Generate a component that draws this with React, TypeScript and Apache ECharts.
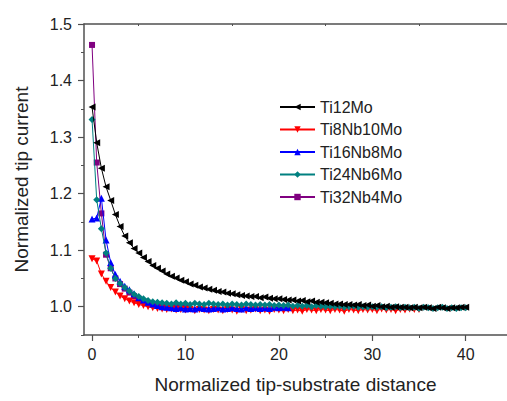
import React, { useEffect, useRef } from "react";
import * as echarts from "echarts";

const distance = [
  0, 0.5, 1, 1.5, 2, 2.5, 3, 3.5, 4, 4.5, 5, 5.5, 6, 6.5, 7, 7.5, 8, 8.5, 9, 9.5,
  10, 10.5, 11, 11.5, 12, 12.5, 13, 13.5, 14, 14.5, 15, 15.5, 16, 16.5, 17, 17.5, 18, 18.5, 19, 19.5,
  20, 20.5, 21, 21.5, 22, 22.5, 23, 23.5, 24, 24.5, 25, 25.5, 26, 26.5, 27, 27.5, 28, 28.5, 29, 29.5,
  30, 30.5, 31, 31.5, 32, 32.5, 33, 33.5, 34, 34.5, 35, 35.5, 36, 36.5, 37, 37.5, 38, 38.5, 39, 39.5, 40,
];

const ti12Mo = [
  1.353, 1.29, 1.245, 1.212, 1.188, 1.163, 1.142, 1.125, 1.113, 1.103, 1.095, 1.087, 1.08, 1.073, 1.068, 1.063, 1.058, 1.054, 1.051, 1.047,
  1.044, 1.04, 1.038, 1.035, 1.033, 1.031, 1.029, 1.027, 1.026, 1.024, 1.023, 1.021, 1.02, 1.019, 1.018, 1.018, 1.016, 1.017, 1.015, 1.014,
  1.014, 1.013, 1.012, 1.012, 1.01, 1.011, 1.009, 1.01, 1.008, 1.008, 1.007, 1.006, 1.005, 1.005, 1.004, 1.004, 1.003, 1.004, 1.002, 1.003,
  1.001, 1.002, 1.0, 1.001, 0.999, 1.0, 0.999, 0.999, 0.998, 0.999, 0.998, 0.999, 0.998, 0.997, 0.999, 0.998, 0.997, 0.998, 0.998, 0.999, 0.999,
];

const ti8Nb10Mo = [
  1.085, 1.081, 1.058, 1.045, 1.034, 1.026, 1.019, 1.014, 1.01, 1.007, 1.004, 1.002, 1.0, 0.998, 0.997, 0.996, 0.995, 0.996, 0.994, 0.995,
  0.994, 0.995, 0.993, 0.995, 0.994, 0.993, 0.995, 0.994, 0.993, 0.995, 0.994, 0.992, 0.995, 0.993, 0.994, 0.996, 0.993, 0.994, 0.992, 0.995,
  0.994, 0.993, 0.995, 0.993, 0.994, 0.992, 0.995, 0.994, 0.993, 0.995, 0.994, 0.993, 0.995, 0.994, 0.992, 0.995, 0.994, 0.993, 0.995, 0.994,
  0.995, 0.993, 0.996, 0.994, 0.995, 0.993, 0.995, 0.994, 0.996, 0.995, 0.995,
];

const ti16Nb8Mo = [
  1.155, 1.157, 1.192, 1.118, 1.078, 1.057, 1.045, 1.036, 1.03, 1.023, 1.016, 1.012, 1.008, 1.005, 1.002, 1.0, 0.999, 0.998, 0.997, 0.998,
  0.996, 0.997, 0.996, 0.998, 0.997, 0.996, 0.997, 0.998, 0.996, 0.997, 0.998, 0.997, 0.996, 0.998, 0.997, 0.998, 0.997, 0.998, 0.997, 0.999,
  0.998, 0.999, 0.998,
];

const ti24Nb6Mo = [
  1.331, 1.189, 1.138, 1.095, 1.068, 1.05, 1.041, 1.034, 1.028, 1.022, 1.018, 1.014, 1.011, 1.009, 1.008, 1.007, 1.006, 1.005, 1.007, 1.005,
  1.006, 1.004, 1.006, 1.005, 1.004, 1.006, 1.005, 1.004, 1.005, 1.003, 1.005, 1.004, 1.003, 1.005, 1.004, 1.003, 1.004, 1.003, 1.004, 1.002,
  1.003, 1.002, 1.003, 1.001, 1.002, 1.001, 1.002, 1.0, 1.002, 1.001, 1.0, 1.001, 1.0, 1.001, 0.999, 1.0, 1.001, 0.999, 1.0, 0.999,
  1.0, 0.999, 1.0, 0.998, 0.999, 1.0, 0.998, 0.999, 0.998, 0.999, 0.997, 0.999, 0.998, 0.997, 0.998, 0.999, 0.997, 0.998, 0.997, 0.998, 0.998,
];

const ti32Nb4Mo = [
  1.463, 1.255, 1.165, 1.092, 1.068, 1.05, 1.04, 1.032, 1.025, 1.019, 1.014, 1.01, 1.006, 1.004, 1.002, 1.001, 1.0, 0.999, 1.0, 0.999, 0.999,
];

const yTicks = [1.0, 1.1, 1.2, 1.3, 1.4, 1.5];
const yMinorTicks = [0.95, 1.05, 1.15, 1.25, 1.35, 1.45];
const xTicks = [0, 10, 20, 30, 40];
const xMinorTicks = [5, 15, 25, 35];

const FONT = "Liberation Sans, Arial, sans-serif";
const AXIS_COLOR = "#505050";
const TEXT_COLOR = "#222";

function pairs(values: number[]) {
  return values.map((v, i) => [distance[i], v]);
}

export default function App() {
  const ref = useRef<HTMLDivElement>(null);
  useEffect(() => {
    if (!ref.current) return;
    const chart = echarts.init(ref.current, null, { renderer: "svg" });
    const xRange = { min: -0.86, max: 44.42 };
    const series = [
      { name: "Ti12Mo", data: ti12Mo, color: "#000000", symbol: "triangle", rotate: 90, z: 6 },
      { name: "Ti8Nb10Mo", data: ti8Nb10Mo, color: "#ff0000", symbol: "triangle", rotate: 180, z: 3 },
      { name: "Ti16Nb8Mo", data: ti16Nb8Mo, color: "#0000ff", symbol: "triangle", rotate: 0, z: 4 },
      { name: "Ti24Nb6Mo", data: ti24Nb6Mo, color: "#008080", symbol: "diamond", rotate: 0, z: 5 },
      { name: "Ti32Nb4Mo", data: ti32Nb4Mo, color: "#800080", symbol: "rect", rotate: 0, z: 2 },
    ];
    chart.setOption({
      animation: false,
      backgroundColor: "#ffffff",
      grid: { left: 84, right: 0, top: 24, bottom: 66, containLabel: false },
      legend: {
        orient: "vertical",
        left: 274,
        top: 94,
        itemWidth: 35,
        itemHeight: 8,
        itemGap: 6.5,
        data: series.map((s) => s.name),
        textStyle: { fontFamily: FONT, fontSize: 16, color: TEXT_COLOR, lineHeight: 16 },
      },
      xAxis: [
        {
          type: "value",
          ...xRange,
          position: "bottom",
          name: "Normalized tip-substrate distance",
          nameLocation: "middle",
          nameGap: 40,
          nameTextStyle: { fontFamily: FONT, fontSize: 19, color: TEXT_COLOR },
          axisLine: { show: true, onZero: false, lineStyle: { color: AXIS_COLOR, width: 1.5 } },
          axisTick: { show: true, customValues: xTicks, length: 6, inside: false, lineStyle: { color: AXIS_COLOR, width: 1.2 } },
          axisLabel: { customValues: xTicks, margin: 11, fontFamily: FONT, fontSize: 16, color: TEXT_COLOR },
          splitLine: { show: false },
        },
        {
          type: "value",
          ...xRange,
          position: "top",
          axisLine: { show: true, onZero: false, lineStyle: { color: AXIS_COLOR, width: 1.5 } },
          axisTick: { show: true, customValues: xMinorTicks, length: 2, inside: true, lineStyle: { color: AXIS_COLOR } },
          axisLabel: { show: false },
          splitLine: { show: false },
        },
        {
          type: "value",
          ...xRange,
          position: "bottom",
          axisLine: { show: false, onZero: false },
          axisTick: { show: true, customValues: xMinorTicks, length: 3, inside: false, lineStyle: { color: AXIS_COLOR } },
          axisLabel: { show: false },
          splitLine: { show: false },
        },
      ],
      yAxis: [
        {
          type: "value",
          min: 0.95,
          max: 1.5,
          position: "left",
          name: "Normalized tip current",
          nameLocation: "middle",
          nameGap: 53,
          nameRotate: 90,
          nameTextStyle: { fontFamily: FONT, fontSize: 19, color: TEXT_COLOR },
          axisLine: { show: true, onZero: false, lineStyle: { color: AXIS_COLOR, width: 1.5 } },
          axisTick: { show: true, customValues: yTicks, length: 6, inside: false, lineStyle: { color: AXIS_COLOR, width: 1.2 } },
          axisLabel: {
            customValues: yTicks,
            margin: 12,
            fontFamily: FONT,
            fontSize: 16,
            color: TEXT_COLOR,
            formatter: (v: number) => v.toFixed(1),
          },
          splitLine: { show: false },
        },
        {
          type: "value",
          min: 0.95,
          max: 1.5,
          position: "left",
          axisLine: { show: false, onZero: false },
          axisTick: { show: true, customValues: yMinorTicks, length: 3, inside: false, lineStyle: { color: AXIS_COLOR } },
          axisLabel: { show: false },
          splitLine: { show: false },
        },
      ],
      series: series.map((s) => ({
        name: s.name,
        type: "line",
        xAxisIndex: 0,
        yAxisIndex: 0,
        data: pairs(s.data),
        symbol: s.symbol,
        symbolRotate: s.rotate,
        symbolSize: s.symbol === "rect" ? 6 : 7,
        showSymbol: true,
        z: s.z,
        color: s.color,
        lineStyle: { color: s.color, width: 1 },
        itemStyle: { color: s.color },
        emphasis: { disabled: true },
      })),
    });
    return () => chart.dispose();
  }, []);
  return (
    <div
      ref={ref}
      style={{ position: "fixed", left: 0, top: 0, width: 507, height: 401, background: "#fff" }}
    />
  );
}
